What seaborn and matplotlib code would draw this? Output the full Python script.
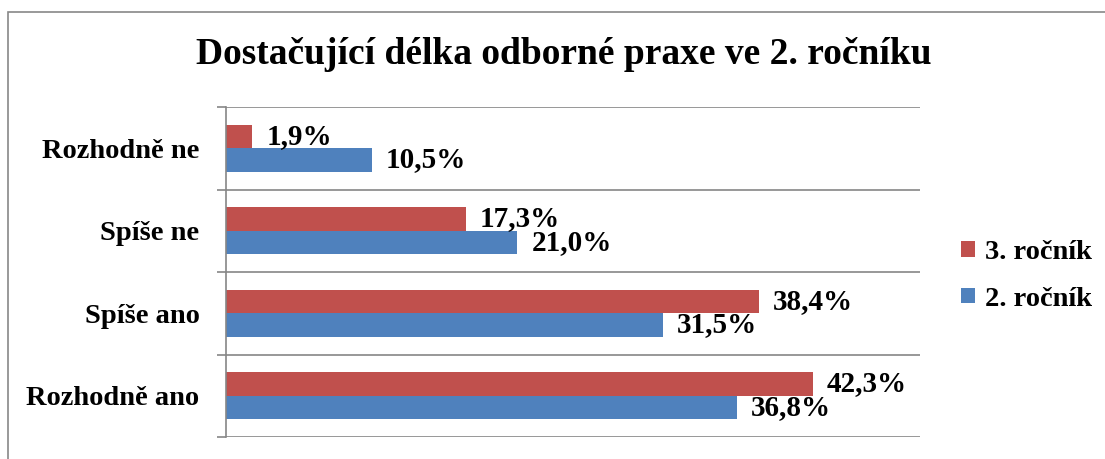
import pandas as pd
import seaborn as sns
import matplotlib.pyplot as plt
from matplotlib.patches import Patch, Rectangle

# data
categories = ['Rozhodně ne', 'Spíše ne', 'Spíše ano', 'Rozhodně ano']
series = ['3. ročník', '2. ročník']
values_3 = [1.9, 17.3, 38.4, 42.3]
values_2 = [10.5, 21.0, 31.5, 36.8]
colors = ['#C0504D', '#4F81BD']

df = pd.DataFrame({
    'kategorie': categories * 2,
    'rocnik': [series[0]] * 4 + [series[1]] * 4,
    'procent': values_3 + values_2,
})

sns.set_style('white')
plt.rcParams['font.family'] = ['Liberation Serif', 'DejaVu Serif']
plt.rcParams['font.weight'] = 'bold'
plt.rcParams['text.color'] = 'black'
plt.rcParams['ytick.labelcolor'] = 'black'

fig = plt.figure(figsize=(11.05, 4.59), dpi=100)
ax = fig.add_axes([226 / 1105, 1 - 437 / 459, 694 / 1105, 330 / 459])

sns.barplot(data=df, y='kategorie', x='procent', hue='rocnik',
            order=categories, hue_order=series, palette=colors,
            orient='h', width=0.57, gap=0, ax=ax, legend=False,
            saturation=1, edgecolor='none')

# value labels with decimal comma
for cont in ax.containers:
    labs = [f"{b.get_width():.1f}".replace('.', ',') + '%' for b in cont]
    ax.bar_label(cont, labels=labs, padding=10, fontsize=21, fontweight='bold',
                 color='black')

ax.set_xlim(0, 50)
ax.set_ylim(3.5, -0.5)
ax.set_xlabel('')
ax.set_ylabel('')
ax.set_xticks([])
ax.set_yticks(range(len(categories)))
ax.set_yticklabels(categories, fontsize=20.5, fontweight='bold', color='black')
ax.set_yticks([-0.5, 0.5, 1.5, 2.5, 3.5], minor=True)
ax.tick_params(axis='y', which='major', length=0, pad=19)
ax.tick_params(axis='y', which='minor', length=6.5, width=1.2, color='#868686', left=True)
ax.grid(False)
ax.yaxis.grid(True, which='minor', color='#868686', linewidth=1.2)
for s in ['top', 'right', 'bottom']:
    ax.spines[s].set_visible(False)
ax.spines['left'].set_color('#868686')
ax.spines['left'].set_linewidth(1.2)

fig.text(0.51, 0.882, 'Dostačující délka odborné praxe ve 2. ročníku',
         ha='center', va='center', fontsize=27, fontweight='bold', color='black')

handles = [Patch(facecolor=c, edgecolor='none') for c in colors]
fig.legend(handles, series, loc='center left', bbox_to_anchor=(961 / 1105, 1 - 276 / 459),
           frameon=False, fontsize=20.5, handlelength=0.48, handleheight=0.48,
           handletextpad=0.35, labelspacing=0.75, borderpad=0, borderaxespad=0)

# outer chart border
fig.add_artist(Rectangle((8 / 1105, -0.1), 1.2, 1.1 - 12 / 459,
                         transform=fig.transFigure, fill=False,
                         edgecolor='#888888', linewidth=1.2))

fig.savefig('out.png', dpi=100)
